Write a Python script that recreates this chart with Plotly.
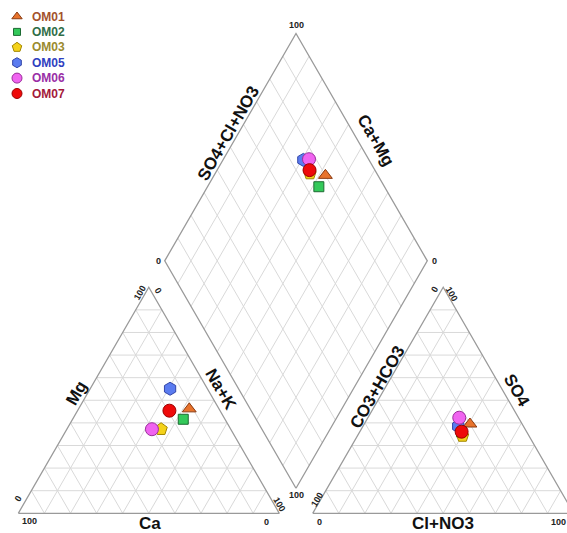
import numpy as np
import plotly.graph_objects as go

# ---- sample data (percent of meq/L) ----
samples = ["OM01", "OM02", "OM03", "OM05", "OM06", "OM07"]
ca = [11.4, 16.0, 26.7, 14.3, 30.2, 19.4]
mg = [46.2, 41.6, 37.2, 55.1, 37.2, 45.4]
na_k = [42.4, 42.4, 36.1, 30.6, 32.6, 35.2]
so4 = [39.5, 36.0, 34.2, 38.5, 42.3, 36.1]
cl_no3 = [40.5, 39.0, 40.3, 36.5, 35.0, 39.0]
co3_hco3 = [20.0, 25.0, 25.5, 25.0, 22.7, 24.9]

# ---- marker styles ----
symbols = ["triangle-up", "square", "pentagon", "hexagon", "circle", "circle"]
fills = ["#e8732c", "#33c95a", "#f4d21a", "#5b7cf0", "#f064f0", "#ee0a0a"]
edges = ["#8a3b12", "#1d6b33", "#a38700", "#3346a8", "#9a2f9a", "#9c0000"]
label_colors = ["#a3522c", "#2f6d47", "#9a8a2e", "#2f40c0", "#9a2ea6", "#a3193a"]
sizes = [12, 10, 13, 13, 13, 13]

# ---- geometry (unit = triangle side) ----
H = np.sqrt(3) / 2
GAP = 0.128                     # spacing between the two triangles
DX = 1 + GAP / 2                # diamond centre line
DB = 0.096                      # diamond bottom vertex height
DS = 1.006                      # diamond side

# pixel frame of the page
W, HT = 567, 533
X0, Y0, S = 18.3, 513.3, 261.0


def cation_xy(n, m):
    n, m = np.asarray(n) / 100, np.asarray(m) / 100
    return n + m / 2, m * H


def anion_xy(c, s):
    c, s = np.asarray(c) / 100, np.asarray(s) / 100
    return 1 + GAP + c + s / 2, s * H


def diamond_xy(a, c):
    a, c = np.asarray(a) / 100, np.asarray(c) / 100
    return DX + DS * 0.5 * (a - c), DB + DS * H * (a + c)


def pt(fn, p, q):
    x, y = fn(p, q)
    return float(x), float(y)


def segs(pairs):
    xs, ys = [], []
    for (x1, y1), (x2, y2) in pairs:
        xs += [x1, x2, None]
        ys += [y1, y2, None]
    return xs, ys


fig = go.Figure()

# ---- grids every 10 % ----
grid = []
for k in range(1, 10):
    f = k * 10
    for tri in (cation_xy, anion_xy):
        grid.append((pt(tri, 0, f), pt(tri, 100 - f, f)))
        grid.append((pt(tri, f, 0), pt(tri, f, 100 - f)))
        grid.append((pt(tri, 100 - f, 0), pt(tri, 0, 100 - f)))
    grid.append((pt(diamond_xy, f, 0), pt(diamond_xy, f, 100)))
    grid.append((pt(diamond_xy, 0, f), pt(diamond_xy, 100, f)))
gx, gy = segs(grid)
fig.add_trace(go.Scatter(x=gx, y=gy, mode="lines", hoverinfo="skip",
                         line=dict(color="#d9d9d9", width=1), showlegend=False))

# ---- outlines ----
for tri in (cation_xy, anion_xy):
    corners = [pt(tri, 0, 0), pt(tri, 100, 0), pt(tri, 0, 100), pt(tri, 0, 0)]
    fig.add_trace(go.Scatter(x=[c[0] for c in corners], y=[c[1] for c in corners],
                             mode="lines", hoverinfo="skip",
                             line=dict(color="#9a9a9a", width=1.3), showlegend=False))
corners = [pt(diamond_xy, 0, 0), pt(diamond_xy, 100, 0), pt(diamond_xy, 100, 100),
           pt(diamond_xy, 0, 100), pt(diamond_xy, 0, 0)]
fig.add_trace(go.Scatter(x=[c[0] for c in corners], y=[c[1] for c in corners],
                         mode="lines", hoverinfo="skip",
                         line=dict(color="#9a9a9a", width=1.3), showlegend=False))

# ---- samples ----
cx, cy = cation_xy(na_k, mg)
ax_, ay = anion_xy(cl_no3, so4)
dx, dy = diamond_xy(np.array(so4) + np.array(cl_no3), np.array(ca) + np.array(mg))
for i, name in enumerate(samples):
    fig.add_trace(go.Scatter(
        x=[cx[i], ax_[i], dx[i]], y=[cy[i], ay[i], dy[i]], mode="markers", name=name,
        marker=dict(symbol=symbols[i], size=sizes[i], color=fills[i],
                    line=dict(color=edges[i], width=1)),
        showlegend=False))

# ---- legend drawn in page pixels ----
leg_y0, leg_dy = 16.5, 15.4
for i, name in enumerate(samples):
    yy = leg_y0 + i * leg_dy
    fig.add_trace(go.Scatter(
        x=[17], y=[yy], xaxis="x2", yaxis="y2", mode="markers", hoverinfo="skip",
        marker=dict(symbol=symbols[i], size=sizes[i] - 3, color=fills[i],
                    line=dict(color=edges[i], width=1)), showlegend=False))
    fig.add_annotation(x=30, y=yy, xref="x2", yref="y2", text="<b>%s</b>" % name,
                       showarrow=False, xanchor="left", yanchor="middle",
                       font=dict(family="Liberation Sans, Arial", size=12, color=label_colors[i]))

# ---- axis titles ----
titles = [
    ("Ca", 149.5, 523.5, 0), ("Mg", 76, 393, -60), ("Na+K", 221, 389, 60),
    ("SO4+Cl+NO3", 228, 133, -60), ("Ca+Mg", 376, 140, 60),
    ("CO3+HCO3", 377, 387, -60), ("SO4", 517, 390, 60), ("Cl+NO3", 443, 523.5, 0),
]
for txt, x, y, ang in titles:
    fig.add_annotation(x=x, y=y, xref="x2", yref="y2", text="<b>%s</b>" % txt,
                       showarrow=False, textangle=ang, xanchor="center", yanchor="middle",
                       font=dict(family="Liberation Sans, Arial", size=17, color="#111111"))

# ---- scale numbers ----
ticks = [
    ("100", 29.5, 521, 0), ("0", 266, 521.5, 0), ("0", 18, 499, -60), ("100", 139.5, 292.5, -60),
    ("0", 158.5, 290.5, 60), ("100", 279, 504, 60),
    ("0", 319.5, 522, 0), ("100", 558, 522, 0), ("100", 317, 500, -60), ("0", 434, 289.5, -60),
    ("100", 451.5, 294, 60),
    ("100", 296.5, 25, 0), ("0", 158.5, 260.7, 0), ("0", 434.5, 260.7, 0), ("100", 296.7, 494.5, 0),
]
for txt, x, y, ang in ticks:
    fig.add_annotation(x=x, y=y, xref="x2", yref="y2", text="<b>%s</b>" % txt,
                       showarrow=False, textangle=ang, xanchor="center", yanchor="middle",
                       font=dict(family="Liberation Sans, Arial", size=9, color="#222222"))

hidden = dict(visible=False, showgrid=False, zeroline=False, fixedrange=True)
fig.update_layout(
    width=W, height=HT, autosize=False,
    margin=dict(l=0, r=0, t=0, b=0),
    paper_bgcolor="white", plot_bgcolor="white",
    xaxis=dict(range=[-X0 / S, (W - X0) / S], **hidden),
    yaxis=dict(range=[(Y0 - HT) / S, Y0 / S], **hidden),
    xaxis2=dict(range=[0, W], overlaying="x", **hidden),
    yaxis2=dict(range=[HT, 0], overlaying="y", **hidden),
    showlegend=False,
)

fig.write_html("out.html")
